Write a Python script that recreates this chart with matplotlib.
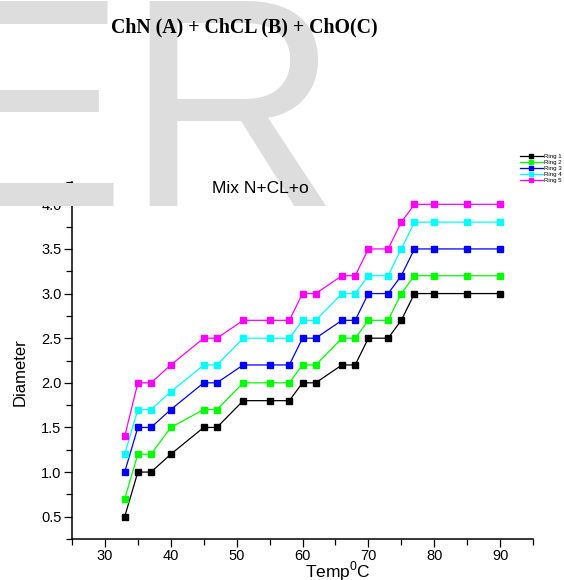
import matplotlib
matplotlib.use("Agg")
import matplotlib.pyplot as plt
from matplotlib.ticker import MultipleLocator

plt.rcParams["font.family"] = ["Liberation Sans", "DejaVu Sans"]
plt.rcParams["mathtext.fontset"] = "custom"
plt.rcParams["mathtext.rm"] = "Liberation Sans"

# ---------------------------------------------------------------- data
temp = [33, 35, 37, 40, 45, 47, 51, 55, 58, 60, 62, 66, 68, 70, 73, 75, 77, 80, 85, 90]
ring1 = [0.5, 1.0, 1.0, 1.2, 1.5, 1.5, 1.8, 1.8, 1.8, 2.0, 2.0, 2.2, 2.2, 2.5, 2.5, 2.7, 3.0, 3.0, 3.0, 3.0]
ring2 = [0.7, 1.2, 1.2, 1.5, 1.7, 1.7, 2.0, 2.0, 2.0, 2.2, 2.2, 2.5, 2.5, 2.7, 2.7, 3.0, 3.2, 3.2, 3.2, 3.2]
ring3 = [1.0, 1.5, 1.5, 1.7, 2.0, 2.0, 2.2, 2.2, 2.2, 2.5, 2.5, 2.7, 2.7, 3.0, 3.0, 3.2, 3.5, 3.5, 3.5, 3.5]
ring4 = [1.2, 1.7, 1.7, 1.9, 2.2, 2.2, 2.5, 2.5, 2.5, 2.7, 2.7, 3.0, 3.0, 3.2, 3.2, 3.5, 3.8, 3.8, 3.8, 3.8]
ring5 = [1.4, 2.0, 2.0, 2.2, 2.5, 2.5, 2.7, 2.7, 2.7, 3.0, 3.0, 3.2, 3.2, 3.5, 3.5, 3.8, 4.0, 4.0, 4.0, 4.0]
series = [ring1, ring2, ring3, ring4, ring5]
labels = ["Ring 1", "Ring 2", "Ring 3", "Ring 4", "Ring 5"]
colors = ["#000000", "#00FF00", "#0000FF", "#00FFFF", "#FF00FF"]

W, H = 564, 580
fig = plt.figure(figsize=(W / 100, H / 100), dpi=100)

# background watermark
fig.text(-72 / W, 1 - 206 / H, "ER", fontsize=214, color="#DDDDDD",
         ha="left", va="baseline", zorder=0)

fig.text(244 / W, 1 - 32 / H, "ChN (A) + ChCL (B) + ChO(C)", family="Liberation Serif",
         fontweight="bold", fontsize=14.3, ha="center", va="baseline")

ax = fig.add_axes([72 / W, 1 - 539 / H, 461 / W, 357 / H])
ax.patch.set_alpha(0)
for y, lab, c in zip(series, labels, colors):
    ax.plot(temp, y, "-s", color=c, lw=0.9, ms=3.8, label=lab)

ax.set_xlim(25, 95)
ax.set_ylim(0.25, 4.25)
ax.xaxis.set_major_locator(MultipleLocator(10))
ax.xaxis.set_minor_locator(MultipleLocator(5))
ax.yaxis.set_major_locator(MultipleLocator(0.5))
ax.yaxis.set_minor_locator(MultipleLocator(0.25))
ax.spines[["top", "right"]].set_visible(False)
for s in ("left", "bottom"):
    ax.spines[s].set_linewidth(1.1)
ax.tick_params(which="major", direction="out", length=5.5, width=0.9, labelsize=10.5, pad=2)
ax.tick_params(which="minor", direction="out", length=4, width=0.9)
ax.yaxis.set_major_formatter(plt.FormatStrFormatter("%.1f"))

fig.text(260 / W, 1 - 193 / H, "Mix N+CL+o", fontsize=12.5, ha="center", va="baseline")
fig.text(20 / W, 1 - 372 / H, "Diameter", fontsize=12, rotation=90, ha="center", va="center")
fig.text(338 / W, 1 - 577 / H, r"Temp$^\mathrm{0}$C", fontsize=12.5, ha="center", va="baseline")

fig.legend(loc="upper left", bbox_to_anchor=(520 / W, 1 - 154 / H), frameon=False,
           fontsize=4.4, handlelength=3.7, handletextpad=0.3, labelspacing=0.1,
           borderpad=0, borderaxespad=0, markerscale=0.9)

fig.savefig("out.png", dpi=100)
